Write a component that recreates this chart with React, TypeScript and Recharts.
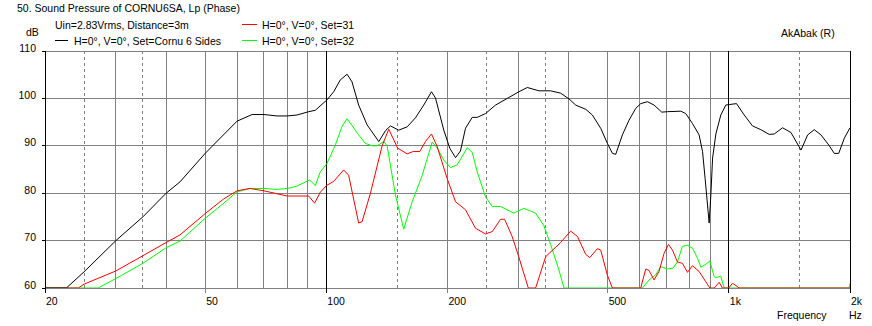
import React from "react";
import { CartesianGrid, Line, LineChart, XAxis, YAxis } from "recharts";

// frequency axis (Hz) and level axis (dB)
const frequencyTicks = [20, 50, 100, 200, 500, 1000, 2000];
const frequencyLabels = ["20", "50", "100", "200", "500", "1k", "2k"];
const dbTicks = [60, 70, 80, 90, 100, 110];

const gridSolid = [30, 40, 50, 60, 70, 80, 90, 200, 300, 400, 500, 600, 700, 800, 900];
const gridDashed = [25, 35, 150, 250, 350, 1500];
const gridMajor = [100, 1000, 2000];

// [frequency, dB]
const cornuSides: [number, number][] = [
  [20, 60], [22.6, 60], [25, 63.4], [30, 70], [35, 75], [40, 80], [43.3, 82.4],
  [50, 88.4], [60, 95.2], [65.4, 96.6], [70, 96.6], [75.4, 96.3], [80, 96.3],
  [84.6, 96.5], [90.4, 97.2], [93.9, 97.5], [100.4, 99.7], [104.3, 101.4],
  [108.3, 103.9], [112.6, 105.1], [115.8, 103.5], [120.3, 98.6], [126.3, 94.4],
  [135, 90.9], [140.3, 93.2], [144.3, 94.2], [151.3, 93.3], [158.8, 94.0],
  [166.5, 95.9], [174.6, 98.6], [182.5, 101.4], [186.7, 100.1], [195.8, 93.3],
  [202.6, 89.5], [209.4, 87.5], [215.4, 88.9], [221.7, 93.7], [230.4, 96.0],
  [237.1, 96.0], [248.6, 96.8], [263.3, 98.6], [281.5, 100], [300.9, 101.4],
  [315.7, 102.3], [337.5, 101.6], [360.7, 101.6], [382.1, 101.1], [400.7, 99.9],
  [416.3, 98.6], [441, 97.7], [458.1, 96.5], [480.4, 93.7], [499.2, 90.5],
  [513.7, 88.4], [523.6, 88.2], [543.9, 92.3], [565, 95.4], [587.1, 97.9],
  [604.1, 98.9], [627.7, 99.3], [651.9, 98.6], [681.3, 97.1], [703.9, 97.2],
  [759.6, 97.3], [781.6, 96.8], [812.3, 94.7], [843.6, 92.3], [860.3, 88.8],
  [873.1, 83.1], [885.3, 77.5], [893.5, 73.7], [902.2, 79.6], [911.2, 87.4],
  [928.6, 92.5], [955.2, 96.5], [983, 98.6], [1002, 98.7], [1045, 98.9],
  [1092, 96.5], [1145, 94.2], [1201, 93.4], [1260, 92.4], [1297, 92.5],
  [1360, 93.8], [1427, 92.8], [1511, 89.1], [1570, 92.3], [1630, 93.4],
  [1694, 92.3], [1777, 90.0], [1828, 88.4], [1875, 88.4], [1936, 91.6], [2000, 93.8],
];

const set31: [number, number][] = [
  [20, 60], [24.2, 60], [25, 60.8], [30, 63.6], [35, 66.8], [40, 69.6], [43.3, 71.2],
  [50, 75.7], [55.6, 78.8], [60, 80.5], [64.6, 81.0], [70, 80.5], [80, 79.4],
  [90.4, 79.4], [93.5, 77.9], [96.6, 80.2], [100, 81.6], [104.3, 82.5],
  [110.4, 84.9], [113.6, 83.8], [120.3, 73.7], [122.7, 74.0], [128.7, 80.0],
  [137.6, 90.0], [142.9, 93.5], [150.4, 89.5], [158.8, 88.3], [164.4, 88.8],
  [170.7, 88.8], [176.3, 90.9], [182.5, 92.5], [188.6, 89.8], [199.6, 83.1],
  [209.4, 78.2], [221.7, 76.5], [234.8, 72.6], [248.6, 71.4], [258.4, 71.9],
  [270.9, 74.5], [277.3, 74.5], [289.7, 70.8], [300.9, 66.5], [317.5, 60],
  [331.1, 60], [350.7, 66.6], [382.1, 69.6], [404.5, 72.0], [420.4, 70.9],
  [441, 67.1], [451.2, 66.4], [471.4, 68.3], [480.4, 68.0], [499.2, 62.7],
  [513.7, 60], [604.1, 60], [621.6, 64], [633.5, 63.7], [651.9, 61.7],
  [670.8, 63.5], [690.3, 67.3], [707.9, 69.2], [724.3, 68], [745.4, 65.5],
  [767, 65.2], [789.4, 63.3], [812.3, 64.7], [843.6, 63.5], [876.7, 61.3],
  [897, 60], [920, 60], [946, 61.2], [964, 60], [1000, 60], [1021, 61],
  [1050, 60.3], [1061, 60], [2000, 60],
];

const set32: [number, number][] = [
  [20, 60], [27.1, 60], [30, 62], [35, 65.2], [40, 68.5], [43.3, 69.9], [50, 74.7],
  [55.6, 77.9], [60, 80.3], [64.6, 81.0], [70, 81], [75.4, 80.8], [80, 81],
  [84.6, 81.5], [90.9, 82.8], [93.9, 81.6], [96.6, 84.5], [100.4, 86.3],
  [105.3, 90.2], [109.4, 94.1], [112.6, 95.7], [115.8, 94.3], [120.3, 92.3],
  [125, 90.5], [130, 90], [133.7, 90], [138.9, 90.9], [141.6, 90], [148.5, 79.6],
  [155.7, 72.4], [163.4, 78.2], [173.1, 83.8], [183.2, 90.8], [188.6, 89.5],
  [195.8, 87.0], [203.5, 85.4], [211.4, 86.0], [223.9, 89.6], [230.4, 88.6],
  [237.1, 84.5], [248.6, 79.2], [258.4, 77.2], [270.9, 77.2], [292.4, 75.8],
  [309.6, 76.8], [331.1, 75.8], [347.3, 73.1], [360.7, 69.2], [378.4, 63.8],
  [389.4, 60], [610, 60], [633.5, 61.7], [658.3, 62.8], [677.4, 64.5],
  [703.9, 64.0], [726.8, 64.2], [745.4, 65.5], [767, 68.8], [789.4, 69],
  [812.3, 68.4], [835.9, 66.3], [852, 64.4], [876.7, 65], [897, 65.7],
  [919.5, 62.4], [928.6, 62.2], [955.2, 62.5], [973.5, 60], [1990, 60], [2000, 61],
];

const toRows = (pts: [number, number][]) => pts.map(([f, db]) => ({ f, db }));

const font = { fontFamily: "'Liberation Sans', Arial, sans-serif", fontSize: 10.5 };

function FreqTick(props: any) {
  const { x, payload } = props;
  const v = payload.value as number;
  const i = frequencyTicks.indexOf(v);
  const major = v === 20 || gridMajor.includes(v);
  return (
    <g>
      <line x1={x} x2={x} y1={288} y2={293} stroke={major ? "#000" : "#808080"} shapeRendering="crispEdges" />
      <text x={x + 1} y={305} {...font} fill="#000">
        {frequencyLabels[i]}
      </text>
    </g>
  );
}

function DbTick(props: any) {
  const { y, payload } = props;
  return (
    <g>
      <line x1={42} x2={45} y1={y} y2={y} stroke="#000" shapeRendering="crispEdges" />
      <text x={36} y={y + 0.5} textAnchor="end" {...font} fill="#000">
        {payload.value}
      </text>
    </g>
  );
}

export default function App() {
  return (
    <div style={{ position: "absolute", left: 0, top: 0, width: 872, height: 326, background: "#fff" }}>
      <LineChart width={872} height={326} margin={{ top: 51, right: 22, bottom: 0, left: 0 }}>
        <CartesianGrid vertical={false} stroke="#808080" shapeRendering="crispEdges" />
        <CartesianGrid horizontal={false} verticalValues={gridSolid} stroke="#808080" shapeRendering="crispEdges" />
        <CartesianGrid horizontal={false} verticalValues={gridDashed} stroke="#808080" strokeDasharray="3 3" shapeRendering="crispEdges" />
        <CartesianGrid horizontal={false} verticalValues={gridMajor} stroke="#000" shapeRendering="crispEdges" />
        <XAxis
          type="number"
          dataKey="f"
          scale="log"
          domain={[20, 2000]}
          ticks={frequencyTicks}
          interval={0}
          allowDataOverflow
          tick={<FreqTick />}
          tickLine={false}
          axisLine={false}
          height={38}
        />
        <YAxis
          type="number"
          dataKey="db"
          domain={[60, 110]}
          ticks={dbTicks}
          interval={0}
          allowDataOverflow
          width={45}
          tick={<DbTick />}
          tickLine={false}
          axisLine={{ stroke: "#000", shapeRendering: "crispEdges" }}
        />
        <Line data={toRows(set32)} dataKey="db" stroke="#00ff00" strokeWidth={1} dot={false} type="linear" isAnimationActive={false} />
        <Line data={toRows(set31)} dataKey="db" stroke="#ff0000" strokeWidth={1} dot={false} type="linear" isAnimationActive={false} />
        <Line data={toRows(cornuSides)} dataKey="db" stroke="#000000" strokeWidth={1} dot={false} type="linear" isAnimationActive={false} />
      </LineChart>
      <svg width={872} height={326} style={{ position: "absolute", left: 0, top: 0, pointerEvents: "none" }}>
        <g {...font} fill="#000">
          <text x={17} y={12}>50. Sound Pressure of CORNU6SA, Lp (Phase)</text>
          <text x={55} y={29}>Uin=2.83Vrms, Distance=3m</text>
          <text x={26} y={36}>dB</text>
          <text x={74} y={44.5}>H=0°, V=0°, Set=Cornu 6 Sides</text>
          <text x={262} y={29}>H=0°, V=0°, Set=31</text>
          <text x={262} y={44.5}>H=0°, V=0°, Set=32</text>
          <text x={781} y={37}>AkAbak (R)</text>
          <text x={777} y={319}>Frequency</text>
          <text x={849} y={319}>Hz</text>
        </g>
        <line x1={55} x2={68} y1={40.5} y2={40.5} stroke="#000" />
        <line x1={242} x2={257} y1={24.5} y2={24.5} stroke="#ff0000" />
        <line x1={242} x2={257} y1={40.5} y2={40.5} stroke="#00ff00" />
      </svg>
    </div>
  );
}
